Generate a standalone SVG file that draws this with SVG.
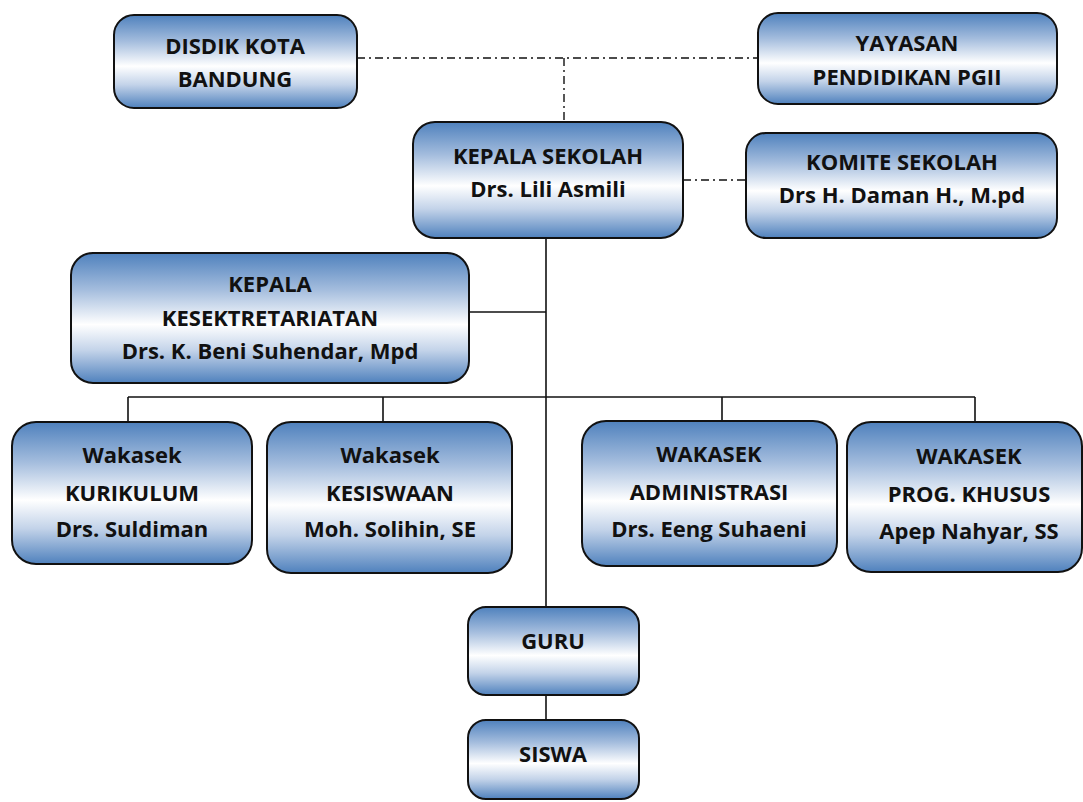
<svg xmlns="http://www.w3.org/2000/svg" width="1083" height="802" viewBox="0 0 1083 802">
<defs>
<linearGradient id="g" x1="0" y1="0" x2="0" y2="1">
<stop offset="0" stop-color="#4f81bd"/>
<stop offset="0.28" stop-color="#a3bcdd"/>
<stop offset="0.55" stop-color="#ffffff"/>
<stop offset="0.75" stop-color="#c3d3e9"/>
<stop offset="1" stop-color="#4f81bd"/>
</linearGradient>
<style>
.box{fill:url(#g);stroke:#111;stroke-width:2}
.t{font-family:"Open Sans","Liberation Sans",sans-serif;font-weight:bold;font-size:22px;fill:#111;text-anchor:middle}
.ln{stroke:#111;stroke-width:1.6;fill:none}
.dd{stroke:#111;stroke-width:1.4;fill:none;stroke-dasharray:8 4 2 4}
</style>
</defs>
<rect width="1083" height="802" fill="#fff"/>
<g id="connectors">
<path class="dd" d="M357 58H758"/>
<path class="dd" d="M564 58V122"/>
<path class="dd" d="M683 180H746"/>
<path class="ln" d="M546 238V607"/>
<path class="ln" d="M469 312H546"/>
<path class="ln" d="M128 397H975"/>
<path class="ln" d="M128 397V422M383 397V422M722 397V421M975 397V422"/>
<path class="ln" d="M546 695V720"/>
</g>
<g id="disdik">
<rect class="box" x="114" y="15" width="243" height="93" rx="20"/>
<text class="t" x="235" y="54">DISDIK KOTA</text>
<text class="t" x="235" y="87">BANDUNG</text>
</g>
<g id="yayasan">
<rect class="box" x="758" y="13" width="299" height="91" rx="20"/>
<text class="t" x="907" y="51">YAYASAN</text>
<text class="t" x="907" y="85">PENDIDIKAN PGII</text>
</g>
<g id="kepala-sekolah">
<rect class="box" x="413" y="122" width="270" height="116" rx="22"/>
<text class="t" x="548" y="164">KEPALA SEKOLAH</text>
<text class="t" x="548" y="197">Drs. Lili Asmili</text>
</g>
<g id="komite">
<rect class="box" x="746" y="133" width="311" height="105" rx="20"/>
<text class="t" x="902" y="170">KOMITE SEKOLAH</text>
<text class="t" x="902" y="203">Drs H. Daman H., M.pd</text>
</g>
<g id="kesekretariatan">
<rect class="box" x="71" y="253" width="398" height="130" rx="22"/>
<text class="t" x="270" y="292">KEPALA</text>
<text class="t" x="270" y="326">KESEKTRETARIATAN</text>
<text class="t" x="270" y="359">Drs. K. Beni Suhendar, Mpd</text>
</g>
<g id="kurikulum">
<rect class="box" x="12" y="422" width="240" height="142" rx="24"/>
<text class="t" x="132" y="463">Wakasek</text>
<text class="t" x="132" y="501">KURIKULUM</text>
<text class="t" x="132" y="537">Drs. Suldiman</text>
</g>
<g id="kesiswaan">
<rect class="box" x="267" y="422" width="245" height="151" rx="24"/>
<text class="t" x="390" y="463">Wakasek</text>
<text class="t" x="390" y="501">KESISWAAN</text>
<text class="t" x="390" y="537">Moh. Solihin, SE</text>
</g>
<g id="administrasi">
<rect class="box" x="582" y="421" width="255" height="145" rx="24"/>
<text class="t" x="709" y="462">WAKASEK</text>
<text class="t" x="709" y="500">ADMINISTRASI</text>
<text class="t" x="709" y="537">Drs. Eeng Suhaeni</text>
</g>
<g id="prog-khusus">
<rect class="box" x="847" y="422" width="235" height="150" rx="24"/>
<text class="t" x="969" y="464">WAKASEK</text>
<text class="t" x="969" y="502">PROG. KHUSUS</text>
<text class="t" x="969" y="539">Apep Nahyar, SS</text>
</g>
<g id="guru">
<rect class="box" x="468" y="607" width="171" height="88" rx="18"/>
<text class="t" x="553" y="649">GURU</text>
</g>
<g id="siswa">
<rect class="box" x="468" y="720" width="171" height="79" rx="18"/>
<text class="t" x="553" y="762">SISWA</text>
</g>
</svg>
